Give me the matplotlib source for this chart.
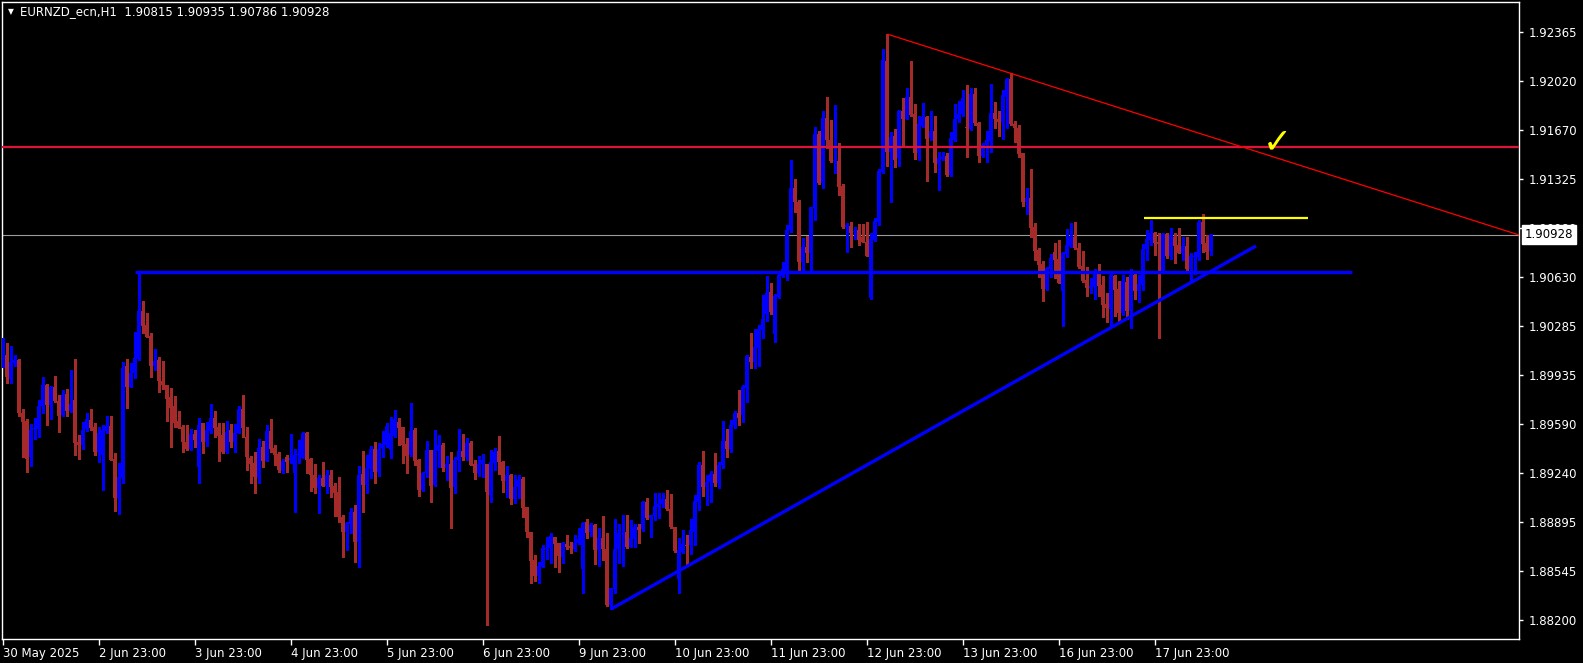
import numpy as np
import matplotlib
matplotlib.use("Agg")
import matplotlib.pyplot as plt
import matplotlib.transforms as mtransforms

# EURNZD H1 candles (bar 0 = 30 May 2025)
symbol = "EURNZD_ecn,H1"

opens = [
    1.90077, 1.90077, 1.89909, 1.90018, 1.90042, 1.89664, 1.89610, 1.89352, 1.89551, 1.89551,
    1.89718, 1.89865, 1.89723, 1.89850, 1.89751, 1.89652, 1.89801, 1.89680, 1.89758, 1.89463,
    1.89440, 1.89551, 1.89617, 1.89567, 1.89392, 1.89369, 1.89539, 1.89574, 1.89340, 1.89067,
    1.89208, 1.89999, 1.89853, 1.89947, 1.90049, 1.90389, 1.90290, 1.90212, 1.89999, 1.90042,
    1.89893, 1.89865, 1.89782, 1.89716, 1.89610, 1.89569, 1.89463, 1.89409, 1.89518, 1.89281,
    1.89593, 1.89463, 1.89541, 1.89629, 1.89569, 1.89510, 1.89392, 1.89546, 1.89463, 1.89527,
    1.89695, 1.89494, 1.89350, 1.89310, 1.89208, 1.89428, 1.89329, 1.89539, 1.89416, 1.89376,
    1.89258, 1.89355, 1.89333, 1.89244, 1.89366, 1.89350, 1.89522, 1.89340, 1.89227, 1.89137,
    1.89208, 1.89149, 1.89227, 1.89149, 1.89107, 1.88932, 1.88826, 1.88880, 1.88965, 1.88755,
    1.89232, 1.89156, 1.89267, 1.89411, 1.89251, 1.89418, 1.89440, 1.89404, 1.89506, 1.89605,
    1.89567, 1.89447, 1.89366, 1.89546, 1.89333, 1.89121, 1.89239, 1.89404, 1.89156, 1.89397,
    1.89440, 1.89279, 1.89305, 1.89140, 1.89333, 1.89397, 1.89352, 1.89456, 1.89305, 1.89244,
    1.89305, 1.89305, 1.89086, 1.89315, 1.89397, 1.89322, 1.89187, 1.89227, 1.89055, 1.89140,
    1.89199, 1.89001, 1.88826, 1.88625, 1.88514, 1.88578, 1.88706, 1.88708, 1.88786, 1.88743,
    1.88649, 1.88739, 1.88725, 1.88703, 1.88743, 1.88562, 1.88892, 1.88826, 1.88873, 1.88696,
    1.88784, 1.88703, 1.88307, 1.88420, 1.88703, 1.88807, 1.88821, 1.88720, 1.88772, 1.88861,
    1.88843, 1.89039, 1.88921, 1.88939, 1.88998, 1.89022, 1.89057, 1.88984, 1.88861, 1.88491,
    1.88684, 1.88732, 1.88732, 1.88826, 1.89039, 1.89298, 1.89145, 1.89176, 1.89235, 1.89173,
    1.89298, 1.89468, 1.89412, 1.89582, 1.89667, 1.89653, 1.89842, 1.90066, 1.90026, 1.90130,
    1.90255, 1.90366, 1.90526, 1.90224, 1.90491, 1.90639, 1.90656, 1.90963, 1.91258, 1.91164,
    1.90739, 1.90845, 1.90802, 1.91121, 1.91643, 1.91298, 1.91754, 1.91600, 1.91454, 1.91454,
    1.91275, 1.90987, 1.90991, 1.90946, 1.90963, 1.90911, 1.90880, 1.90479, 1.90892, 1.91022,
    1.91376, 1.92160, 1.91518, 1.91629, 1.91471, 1.91806, 1.91749, 1.91907, 1.91782, 1.91511,
    1.91702, 1.91761, 1.91612, 1.91664, 1.91430, 1.91464, 1.91487, 1.91353, 1.91600, 1.91747,
    1.91785, 1.91695, 1.91678, 1.91926, 1.91718, 1.91489, 1.91565, 1.91596, 1.91789, 1.91749,
    1.91730, 1.91907, 1.92030, 1.91714, 1.91683, 1.91506, 1.91164, 1.91187, 1.90982, 1.90821,
    1.90720, 1.90545, 1.90684, 1.90805, 1.90755, 1.90533, 1.90793, 1.90852, 1.90916, 1.90838,
    1.90708, 1.90609, 1.90550, 1.90562, 1.90656, 1.90573, 1.90439, 1.90401, 1.90639, 1.90543,
    1.90377, 1.90597, 1.90391, 1.90644, 1.90533, 1.90573, 1.90826, 1.90892, 1.90944, 1.90880,
    1.90668, 1.90935, 1.90781, 1.90916, 1.90857, 1.90802, 1.90850, 1.90684, 1.90774, 1.90774,
    1.91017, 1.90873, 1.90815,
]

highs = [
    1.90195, 1.90160, 1.90141, 1.90077, 1.90049, 1.89692, 1.89621, 1.89588, 1.89629, 1.89758,
    1.89919, 1.89872, 1.89858, 1.89928, 1.89794, 1.89829, 1.89834, 1.89971, 1.90049, 1.89510,
    1.89605, 1.89664, 1.89695, 1.89593, 1.89569, 1.89581, 1.89645, 1.89645, 1.89385, 1.89315,
    1.90025, 1.90049, 1.90018, 1.90242, 1.90663, 1.90460, 1.90372, 1.90231, 1.90117, 1.90061,
    1.90035, 1.89865, 1.89841, 1.89787, 1.89680, 1.89581, 1.89581, 1.89551, 1.89546, 1.89629,
    1.89598, 1.89600, 1.89730, 1.89680, 1.89593, 1.89593, 1.89610, 1.89588, 1.89588, 1.89718,
    1.89794, 1.89569, 1.89362, 1.89392, 1.89480, 1.89468, 1.89581, 1.89624, 1.89440, 1.89392,
    1.89338, 1.89369, 1.89518, 1.89411, 1.89475, 1.89534, 1.89529, 1.89350, 1.89305, 1.89227,
    1.89322, 1.89263, 1.89263, 1.89168, 1.89215, 1.88944, 1.88897, 1.88996, 1.89015, 1.89291,
    1.89399, 1.89369, 1.89433, 1.89463, 1.89456, 1.89541, 1.89598, 1.89636, 1.89688, 1.89633,
    1.89569, 1.89487, 1.89739, 1.89558, 1.89340, 1.89251, 1.89468, 1.89404, 1.89546, 1.89510,
    1.89451, 1.89362, 1.89392, 1.89352, 1.89551, 1.89518, 1.89487, 1.89468, 1.89333, 1.89362,
    1.89376, 1.89305, 1.89405, 1.89416, 1.89504, 1.89329, 1.89291, 1.89235, 1.89227, 1.89227,
    1.89216, 1.89003, 1.88826, 1.88661, 1.88614, 1.88732, 1.88786, 1.88814, 1.88791, 1.88748,
    1.88755, 1.88802, 1.88755, 1.88802, 1.88854, 1.88897, 1.88913, 1.88885, 1.88878, 1.88850,
    1.88937, 1.88819, 1.88429, 1.88916, 1.88880, 1.88944, 1.88944, 1.88909, 1.88878, 1.88878,
    1.89046, 1.89067, 1.88944, 1.89098, 1.89102, 1.89102, 1.89121, 1.89093, 1.88861, 1.88784,
    1.88838, 1.88802, 1.88916, 1.89086, 1.89322, 1.89397, 1.89227, 1.89256, 1.89386, 1.89322,
    1.89610, 1.89553, 1.89617, 1.89681, 1.89830, 1.89865, 1.90078, 1.90236, 1.90262, 1.90290,
    1.90503, 1.90640, 1.90590, 1.90507, 1.90661, 1.90734, 1.90998, 1.91459, 1.91324, 1.91175,
    1.90904, 1.90923, 1.91128, 1.91695, 1.91664, 1.91806, 1.91907, 1.91742, 1.91848, 1.91577,
    1.91289, 1.91010, 1.91022, 1.90987, 1.91003, 1.91003, 1.91017, 1.90939, 1.91046, 1.91393,
    1.92243, 1.92349, 1.91655, 1.91678, 1.91813, 1.91900, 1.91971, 1.92160, 1.91855, 1.91773,
    1.91860, 1.91773, 1.91806, 1.91773, 1.91518, 1.91518, 1.91506, 1.91655, 1.91855, 1.91877,
    1.91955, 1.91990, 1.91966, 1.91966, 1.91730, 1.91577, 1.91664, 1.91997, 1.91867, 1.91806,
    1.91955, 1.92037, 1.92077, 1.91737, 1.91707, 1.91510, 1.91258, 1.91395, 1.91010, 1.90838,
    1.90743, 1.90703, 1.90793, 1.90868, 1.90892, 1.90809, 1.90968, 1.91010, 1.91022, 1.90868,
    1.90817, 1.90698, 1.90621, 1.90684, 1.90722, 1.90637, 1.90519, 1.90649, 1.90644, 1.90604,
    1.90644, 1.90628, 1.90684, 1.90675, 1.90644, 1.90864, 1.90963, 1.91034, 1.90951, 1.90944,
    1.90944, 1.90944, 1.90975, 1.90944, 1.90975, 1.90916, 1.90916, 1.90802, 1.90809, 1.91034,
    1.91076, 1.90927, 1.90935,
]

lows = [
    1.89990, 1.89881, 1.89876, 1.89999, 1.89645, 1.89352, 1.89251, 1.89293, 1.89482, 1.89494,
    1.89669, 1.89581, 1.89626, 1.89747, 1.89534, 1.89647, 1.89645, 1.89676, 1.89369, 1.89340,
    1.89411, 1.89541, 1.89546, 1.89369, 1.89322, 1.89121, 1.89522, 1.89333, 1.88974, 1.88951,
    1.89168, 1.89704, 1.89848, 1.89917, 1.90042, 1.90235, 1.90202, 1.89924, 1.89971, 1.89817,
    1.89836, 1.89612, 1.89428, 1.89565, 1.89558, 1.89392, 1.89404, 1.89404, 1.89428, 1.89168,
    1.89385, 1.89433, 1.89522, 1.89499, 1.89329, 1.89385, 1.89385, 1.89423, 1.89392, 1.89522,
    1.89499, 1.89263, 1.89173, 1.89102, 1.89173, 1.89286, 1.89326, 1.89392, 1.89298, 1.89251,
    1.89244, 1.89251, 1.89310, 1.88967, 1.89310, 1.89345, 1.89244, 1.89116, 1.89102, 1.88960,
    1.89149, 1.89102, 1.89074, 1.88937, 1.88897, 1.88649, 1.88696, 1.88819, 1.88613, 1.88573,
    1.88967, 1.89102, 1.89208, 1.89173, 1.89220, 1.89357, 1.89428, 1.89350, 1.89499, 1.89440,
    1.89314, 1.89244, 1.89362, 1.89298, 1.89078, 1.89114, 1.89211, 1.89038, 1.89149, 1.89281,
    1.89258, 1.89192, 1.88854, 1.89102, 1.89258, 1.89333, 1.89333, 1.89298, 1.89201, 1.89220,
    1.89215, 1.88165, 1.89039, 1.89263, 1.89235, 1.89109, 1.89074, 1.89022, 1.89031, 1.89062,
    1.88928, 1.88791, 1.88460, 1.88477, 1.88465, 1.88573, 1.88630, 1.88606, 1.88578, 1.88543,
    1.88602, 1.88701, 1.88673, 1.88692, 1.88736, 1.88394, 1.88779, 1.88795, 1.88597, 1.88585,
    1.88625, 1.88300, 1.88276, 1.88389, 1.88602, 1.88585, 1.88708, 1.88715, 1.88720, 1.88748,
    1.88833, 1.88913, 1.88791, 1.88909, 1.88921, 1.89003, 1.88980, 1.88850, 1.88684, 1.88394,
    1.88673, 1.88590, 1.88666, 1.88732, 1.88980, 1.89079, 1.89015, 1.89039, 1.89150, 1.89138,
    1.89275, 1.89357, 1.89390, 1.89560, 1.89582, 1.89603, 1.89747, 1.89983, 1.89988, 1.90002,
    1.90196, 1.90318, 1.90366, 1.90172, 1.90479, 1.90632, 1.90609, 1.90951, 1.91093, 1.90673,
    1.90673, 1.90739, 1.90673, 1.91034, 1.91286, 1.91263, 1.91541, 1.91447, 1.91369, 1.91211,
    1.90975, 1.90810, 1.90845, 1.90897, 1.90857, 1.90876, 1.90781, 1.90474, 1.90885, 1.90998,
    1.91364, 1.91419, 1.91164, 1.91412, 1.91419, 1.91560, 1.91747, 1.91773, 1.91464, 1.91459,
    1.91695, 1.91310, 1.91600, 1.91376, 1.91246, 1.91459, 1.91348, 1.91348, 1.91593, 1.91730,
    1.91773, 1.91482, 1.91671, 1.91707, 1.91447, 1.91482, 1.91447, 1.91518, 1.91688, 1.91629,
    1.91607, 1.91683, 1.91707, 1.91589, 1.91478, 1.91135, 1.91076, 1.90916, 1.90750, 1.90632,
    1.90462, 1.90538, 1.90628, 1.90621, 1.90585, 1.90283, 1.90774, 1.90845, 1.90826, 1.90691,
    1.90597, 1.90495, 1.90519, 1.90472, 1.90495, 1.90349, 1.90314, 1.90278, 1.90354, 1.90314,
    1.90361, 1.90330, 1.90271, 1.90472, 1.90455, 1.90538, 1.90750, 1.90857, 1.90786, 1.90196,
    1.90656, 1.90762, 1.90755, 1.90727, 1.90798, 1.90750, 1.90656, 1.90609, 1.90651, 1.90750,
    1.90809, 1.90755, 1.90786,
]

closes = [
    1.90195, 1.89924, 1.90025, 1.90042, 1.89669, 1.89605, 1.89343, 1.89546, 1.89553, 1.89716,
    1.89865, 1.89723, 1.89850, 1.89751, 1.89647, 1.89794, 1.89680, 1.89730, 1.89456, 1.89440,
    1.89546, 1.89624, 1.89562, 1.89390, 1.89522, 1.89546, 1.89574, 1.89333, 1.89067, 1.89211,
    1.89987, 1.89853, 1.89947, 1.90056, 1.90389, 1.90285, 1.90207, 1.89999, 1.90035, 1.89895,
    1.89865, 1.89765, 1.89704, 1.89598, 1.89562, 1.89463, 1.89411, 1.89518, 1.89475, 1.89581,
    1.89463, 1.89546, 1.89629, 1.89562, 1.89506, 1.89388, 1.89534, 1.89463, 1.89522, 1.89695,
    1.89558, 1.89352, 1.89303, 1.89215, 1.89421, 1.89329, 1.89539, 1.89411, 1.89369, 1.89263,
    1.89326, 1.89322, 1.89350, 1.89369, 1.89369, 1.89525, 1.89333, 1.89227, 1.89137, 1.89208,
    1.89149, 1.89227, 1.89144, 1.89102, 1.88932, 1.88826, 1.88885, 1.88965, 1.88755, 1.89227,
    1.89156, 1.89274, 1.89411, 1.89251, 1.89411, 1.89447, 1.89574, 1.89522, 1.89621, 1.89562,
    1.89440, 1.89362, 1.89539, 1.89329, 1.89121, 1.89239, 1.89404, 1.89149, 1.89404, 1.89440,
    1.89279, 1.89305, 1.89137, 1.89333, 1.89397, 1.89352, 1.89456, 1.89298, 1.89244, 1.89305,
    1.89333, 1.89109, 1.89317, 1.89388, 1.89322, 1.89187, 1.89227, 1.89057, 1.89140, 1.89192,
    1.88996, 1.88826, 1.88621, 1.88514, 1.88583, 1.88708, 1.88710, 1.88795, 1.88736, 1.88656,
    1.88743, 1.88720, 1.88713, 1.88743, 1.88772, 1.88890, 1.88819, 1.88873, 1.88696, 1.88784,
    1.88703, 1.88307, 1.88425, 1.88703, 1.88814, 1.88819, 1.88720, 1.88779, 1.88861, 1.88838,
    1.89039, 1.88921, 1.88944, 1.89010, 1.89022, 1.89057, 1.88984, 1.88861, 1.88692, 1.88696,
    1.88739, 1.88727, 1.88838, 1.89043, 1.89298, 1.89145, 1.89180, 1.89235, 1.89168, 1.89298,
    1.89468, 1.89409, 1.89582, 1.89667, 1.89631, 1.89851, 1.90071, 1.90030, 1.90137, 1.90262,
    1.90333, 1.90519, 1.90385, 1.90498, 1.90644, 1.90684, 1.90963, 1.91258, 1.91159, 1.90739,
    1.90845, 1.90802, 1.91128, 1.91643, 1.91298, 1.91754, 1.91600, 1.91454, 1.91459, 1.91270,
    1.90982, 1.90998, 1.90944, 1.90958, 1.90892, 1.90880, 1.90781, 1.90899, 1.91027, 1.91383,
    1.92167, 1.91518, 1.91624, 1.91459, 1.91806, 1.91749, 1.91907, 1.91778, 1.91511, 1.91711,
    1.91761, 1.91608, 1.91664, 1.91435, 1.91471, 1.91482, 1.91353, 1.91612, 1.91749, 1.91785,
    1.91900, 1.91683, 1.91926, 1.91718, 1.91489, 1.91565, 1.91600, 1.91789, 1.91747, 1.91730,
    1.91919, 1.92030, 1.91714, 1.91683, 1.91501, 1.91164, 1.91192, 1.90979, 1.90817, 1.90715,
    1.90545, 1.90691, 1.90762, 1.90750, 1.90590, 1.90798, 1.90857, 1.90916, 1.90833, 1.90703,
    1.90602, 1.90550, 1.90569, 1.90656, 1.90566, 1.90432, 1.90408, 1.90644, 1.90538, 1.90377,
    1.90602, 1.90391, 1.90644, 1.90533, 1.90578, 1.90828, 1.90899, 1.90939, 1.90868, 1.90864,
    1.90935, 1.90781, 1.90927, 1.90850, 1.90802, 1.90852, 1.90684, 1.90781, 1.90779, 1.91017,
    1.90864, 1.90809, 1.90928,
]

# time axis labels (every 24 bars)
label_bars = [0, 24, 48, 72, 96, 120, 144, 168, 192, 216, 240, 264, 288]
time_labels = ["30 May 2025", "2 Jun 23:00", "3 Jun 23:00", "4 Jun 23:00", "5 Jun 23:00",
               "6 Jun 23:00", "9 Jun 23:00", "10 Jun 23:00", "11 Jun 23:00", "12 Jun 23:00",
               "13 Jun 23:00", "16 Jun 23:00", "17 Jun 23:00"]
price_ticks = [1.88200, 1.88545, 1.88895, 1.89240, 1.89590, 1.89935, 1.90285,
               1.90630, 1.90980, 1.91325, 1.91670, 1.92020, 1.92365]

# drawn objects
resistance_level = 1.91550
support_level = 1.90665
support_bars = [33, 337.25]
range_top_level = 1.91048
range_top_bars = [285.25, 326.25]
uptrend_bars = [152, 313.25]
uptrend_prices = [1.88278, 1.90850]
downtrend_bars = [221.25, 379]
downtrend_prices = [1.92349, 1.90928]
check_pos = (318.5, 1.91585)

BULL = "#0000FF"
BEAR = "#A52A2A"

W, H = 1583, 663
fig = plt.figure(figsize=(W / 100, H / 100), dpi=100, facecolor="black")
ax = fig.add_axes([2 / W, 24 / H, 1517 / W, 637 / H], facecolor="black")

o = np.array(opens)
h = np.array(highs)
l = np.array(lows)
c = np.array(closes)
x = np.arange(len(o))
cols = np.where(c >= o, BULL, BEAR)

# candles: crisp 1px wicks, 3px bodies (4px per bar)
ax.vlines(x, l, h, colors=cols, linewidth=1.0, zorder=3, antialiased=False)
body_bottom = np.minimum(o, c)
body_h = np.maximum(np.abs(c - o), 0.00007)
ax.bar(x, body_h, bottom=body_bottom, width=0.75, color=cols, linewidth=0,
       zorder=3, antialiased=False)

# levels and trend lines
bid = closes[-1]
ax.axhline(bid, color="#9a9a9a", linewidth=0.8, zorder=2)
ax.axhline(resistance_level, color="#DC143C", linewidth=1.6, zorder=4)
ax.hlines(support_level, support_bars[0], support_bars[1], color=BULL, linewidth=2.4, zorder=4)
ax.hlines(range_top_level, range_top_bars[0], range_top_bars[1], color="#FFFF00", linewidth=1.6, zorder=4)
ax.plot(uptrend_bars, uptrend_prices, color=BULL, linewidth=2.4, zorder=4, solid_capstyle="butt")
ax.plot(downtrend_bars, downtrend_prices, color="#FF0000", linewidth=0.9, zorder=4)
ax.text(check_pos[0], check_pos[1], "\u2713", color="#FFFF00", fontsize=25,
        ha="center", va="center", zorder=5)

ax.set_xlim(-0.25, 379)
ax.set_ylim(1.88066, 1.92578)

# axes styling
for sp in ax.spines.values():
    sp.set_color("white")
    sp.set_linewidth(1)
ax.yaxis.tick_right()
ax.set_yticks(price_ticks)
ax.set_yticklabels([f"{p:.5f}" for p in price_ticks])
ax.set_xticks(label_bars)
ax.set_xticklabels(time_labels)
for lbl in ax.get_xticklabels():
    lbl.set_horizontalalignment("left")
ax.tick_params(axis="y", colors="white", length=3, width=1, labelsize=8.5, pad=4)
ax.tick_params(axis="x", colors="white", length=4, width=1, labelsize=8.5, pad=2)

# current price tag
trans = mtransforms.blended_transform_factory(ax.transAxes, ax.transData)
trans = mtransforms.offset_copy(trans, fig=fig, x=6, y=0, units="dots")
ax.text(1.0, bid, f"{bid:.5f}", transform=trans, ha="left", va="center",
        fontsize=8.5, color="black", clip_on=False, zorder=20,
        bbox=dict(boxstyle="square,pad=0.25", fc="white", ec="white"))

# header
fig.text(8 / W, 1 - 12 / H, "\u25BC", color="white", fontsize=5.5, ha="left", va="center")
fig.text(20 / W, 1 - 12 / H, f"{symbol}  {opens[-1]:.5f} {highs[-1]:.5f} {lows[-1]:.5f} {closes[-1]:.5f}",
         color="white", fontsize=8.5, ha="left", va="center")

fig.savefig("out.png", dpi=100, facecolor="black")
